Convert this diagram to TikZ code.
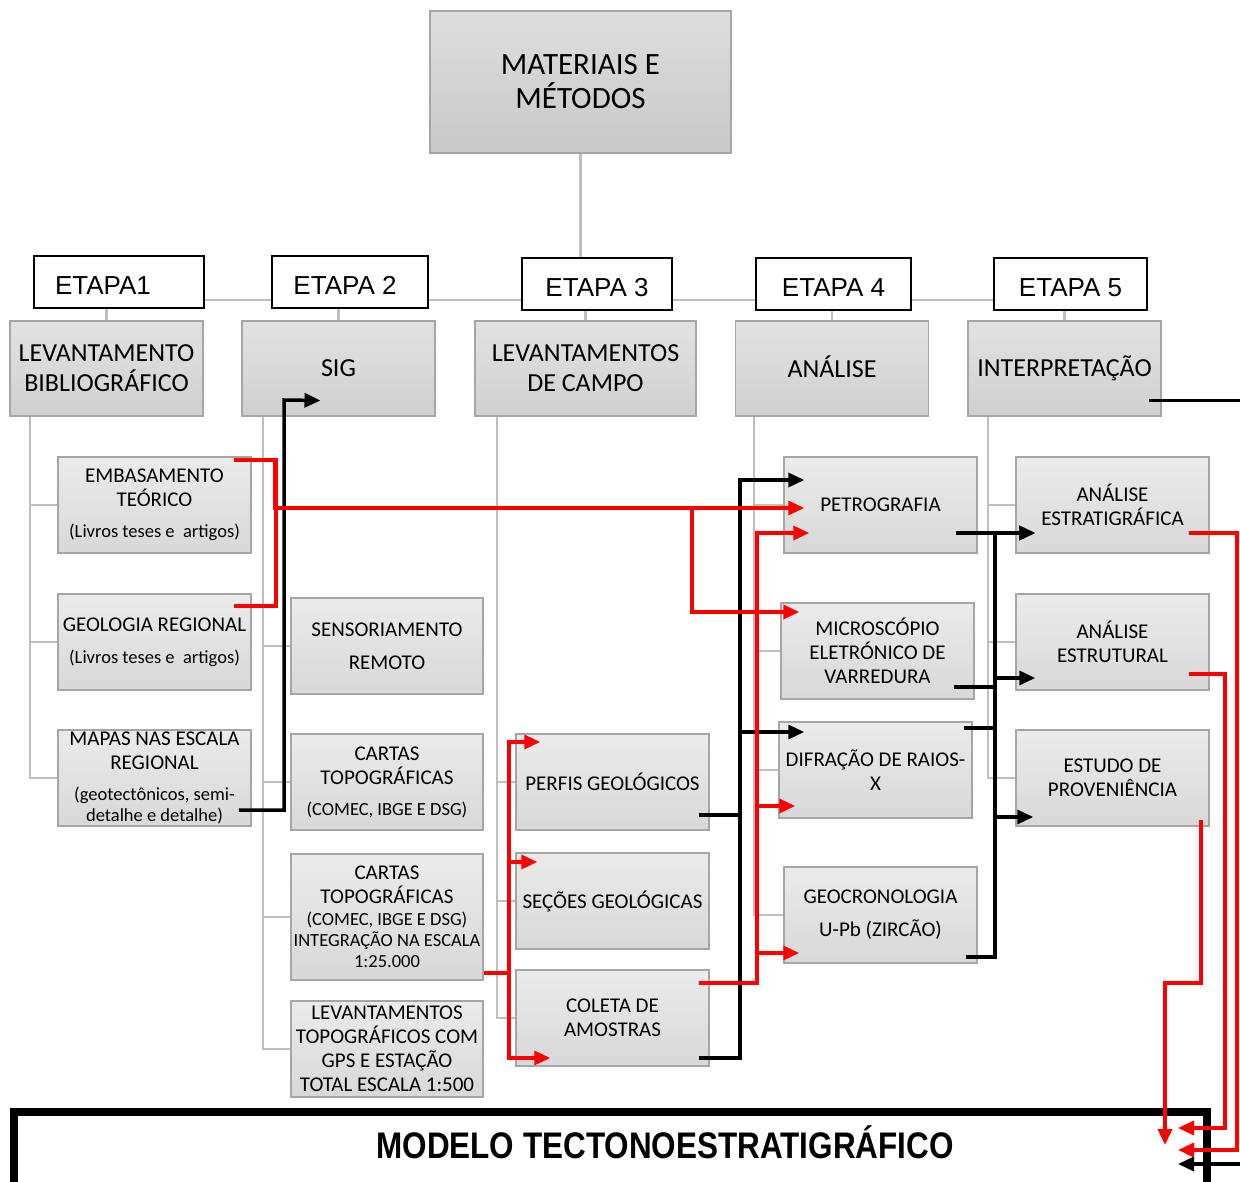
\documentclass[tikz,border=0pt]{standalone}
\usepackage{fontspec}
\setmainfont{Carlito}
\newfontfamily\arialfont{Liberation Sans}
\usetikzlibrary{arrows.meta}
\definecolor{cxtopo}{RGB}{235,235,235}
\definecolor{cxbase}{RGB}{216,216,216}
\definecolor{cttopo}{RGB}{226,226,226}
\definecolor{ctbase}{RGB}{208,208,208}
\definecolor{tttopo}{RGB}{222,222,222}
\definecolor{ttbase}{RGB}{200,200,200}
\definecolor{cxborda}{RGB}{166,166,166}
\definecolor{cinzaramo}{RGB}{191,191,191}
\definecolor{verm}{RGB}{255,0,0}

\begin{document}
\begin{tikzpicture}[x=1pt, y=-1pt,
	caixa/.style={draw=cxborda, line width=1.5pt, top color=cxtopo, bottom color=cxbase,
		minimum width=193pt, minimum height=96pt, align=center, inner sep=2pt,
		font=\fontsize{21}{24}\selectfont},
	categoria/.style={caixa, top color=cttopo, bottom color=ctbase, minimum height=95pt,
		font=\fontsize{26}{30}\selectfont},
	etapa/.style={draw=black, line width=1.5pt, fill=white, minimum height=52pt, text height=25pt,
		font=\arialfont\fontsize{26}{30}\selectfont},
	ramo/.style={draw=cinzaramo, line width=2.5pt},
	modelobox/.style={draw=black, line width=8pt, outer sep=0pt},
	linha/.style={line width=3.5pt},
	seta/.style={linha, -{Triangle[length=16pt,width=14pt]}},
	vlinha/.style={linha, draw=verm},
	vseta/.style={seta, draw=verm}]

	\useasboundingbox (0,0) rectangle (1240,1182);

	\newcommand{\mkcaixa}[5][]{\node[caixa,#1] (#2) at (#3,#4) {#5};}
	\newcommand{\pq}[1]{{\fontsize{18.5}{21}\selectfont #1}}

	%titulo e etapas
	\node[caixa, minimum width=301pt, minimum height=142pt, top color=tttopo, bottom color=ttbase,
		font=\fontsize{31}{34}\selectfont] (titulo) at (580.5,82) {MATERIAIS E\\MÉTODOS};

	\node[etapa, minimum width=170pt] (etapa1) at (119,282) {ETAPA1\kern32pt};
	\node[etapa, minimum width=156pt] (etapa2) at (350,282) {ETAPA 2\kern10pt};
	\node[etapa, minimum width=150pt] (etapa3) at (597,284) {ETAPA 3};
	\node[etapa, minimum width=155pt] (etapa4) at (833.5,284) {ETAPA 4};
	\node[etapa, minimum width=153pt] (etapa5) at (1070.5,284) {ETAPA 5};

	%categorias
	\mkcaixa[categoria]{levbib}{106.5}{368.5}{LEVANTAMENTO\\BIBLIOGRÁFICO}
	\mkcaixa[categoria]{sig}{338.5}{368.5}{SIG}
	\mkcaixa[categoria, minimum width=221pt]{levcampo}{585.5}{368.5}{LEVANTAMENTOS\\DE CAMPO}
	\mkcaixa[categoria, text height=18pt]{analise}{832}{368.5}{ANÁLISE}
	\mkcaixa[categoria]{interp}{1064.5}{368.5}{INTERPRETAÇÃO}

	%etapa 1
	\mkcaixa{embas}{154.5}{505}{EMBASAMENTO\\TEÓRICO\\[7pt]\pq{(Livros teses e\ \ artigos)}}
	\mkcaixa{georeg}{154.5}{642}{GEOLOGIA REGIONAL\\[8pt]\pq{(Livros teses e\ \ artigos)}}
	\mkcaixa{mapas}{154.5}{778}{MAPAS NAS ESCALA\\REGIONAL\\[7pt]\pq{(geotectônicos, semi-}\\[-3pt]\pq{detalhe e detalhe)}}

	%etapa 2
	\mkcaixa[minimum width=192pt]{sens}{387}{646}{SENSORIAMENTO\\[9pt]REMOTO}
	\mkcaixa[minimum width=192pt]{cartas}{387}{782}{CARTAS\\TOPOGRÁFICAS\\[7pt]\pq{(COMEC, IBGE E DSG)}}
	\mkcaixa[minimum width=192pt, minimum height=126pt]{cartasint}{387}{917}{CARTAS\\TOPOGRÁFICAS\\[-2pt]\pq{(COMEC, IBGE E DSG)}\\[-3pt]\pq{INTEGRAÇÃO NA ESCALA}\\[-3pt]\pq{1:25.000}}
	\mkcaixa[minimum width=192pt]{levtopo}{387}{1049}{LEVANTAMENTOS\\TOPOGRÁFICOS COM\\GPS E ESTAÇÃO\\TOTAL ESCALA 1:500}

	%etapa 3
	\mkcaixa{perfis}{612.5}{782}{PERFIS GEOLÓGICOS}
	\mkcaixa{secoes}{612.5}{901}{SEÇÕES GEOLÓGICAS}
	\mkcaixa{coleta}{612.5}{1018}{COLETA DE\\AMOSTRAS}

	%etapa 4
	\mkcaixa{petro}{880.5}{505}{PETROGRAFIA}
	\mkcaixa{micro}{877.5}{651}{MICROSCÓPIO\\ELETRÓNICO DE\\VARREDURA}
	\mkcaixa{difra}{875.5}{770}{DIFRAÇÃO DE RAIOS-\\X}
	\mkcaixa{geocron}{880.5}{915}{GEOCRONOLOGIA\\[9pt]U-Pb (ZIRCÃO)}

	%etapa 5
	\mkcaixa{estrat}{1112.5}{505}{ANÁLISE\\ESTRATIGRÁFICA}
	\mkcaixa{estrut}{1112.5}{642}{ANÁLISE\\ESTRUTURAL}
	\mkcaixa{proven}{1112.5}{778}{ESTUDO DE\\PROVENIÊNCIA}

	%modelo final
	\node[modelobox, minimum width=1193pt, minimum height=150pt, anchor=north west] (modelo) at (14,1112) {};
	\node[font=\arialfont\bfseries\fontsize{37}{40}\selectfont] (modelotxt) at (665,1142)
		{\scalebox{0.85}[1]{MODELO TECTONOESTRATIGRÁFICO}};

	%ramos cinza
	\coordinate (barra) at (0,300);
	\draw[ramo] (titulo.south) -- (titulo.south |- etapa3.north);
	\foreach \a/\b in {etapa1/etapa2, etapa2/etapa3, etapa3/etapa4, etapa4/etapa5}
		\draw[ramo] (\a.east |- barra) -- (\b.west |- barra);
	\foreach \e/\c in {etapa1/levbib, etapa2/sig, etapa3/levcampo, etapa4/analise, etapa5/interp}
		\draw[ramo] (\c.north) -- (\c.north |- \e.south);
	\foreach \c/\x/\filhos in {levbib/30/{embas,georeg,mapas}, sig/263/{sens,cartas,cartasint,levtopo},
			levcampo/497/{perfis,secoes,coleta}, analise/754/{petro,micro,difra,geocron},
			interp/988/{estrat,estrut,proven}}
		\foreach \f in \filhos
			\draw[ramo] (\x,0 |- \c.south) |- (\f.west);

	%setas pretas
	\draw[seta] ([shift={(-13,32)}]mapas.east) -| (284,400) -- ([shift={(-18,32)}]sig.center);
	\draw[seta] ([shift={(-11,40)}]coleta.east) -| (740,480) -- ([shift={(21,-25)}]petro.west);
	\draw[seta] ([shift={(-11,33)}]perfis.east) -| (740,732) -- ([shift={(26,-38)}]difra.west);
	\draw[seta] ([shift={(-12,42)}]geocron.east) -| (995,533) -- ([shift={(20,28)}]estrat.west);
	\draw[seta] ([shift={(-22,28)}]petro.east) -- ([shift={(20,28)}]estrat.west);
	\draw[seta] ([shift={(-21,36)}]micro.east) -| (995,678) -- ([shift={(20,36)}]estrut.west);
	\draw[seta] ([shift={(-9,-42)}]difra.east) -| (995,817) -- ([shift={(18,39)}]proven.west);
	\draw[seta] ([shift={(-13,32)}]interp.east) -- ([shift={(90,32)}]interp.east) |- ([shift={(-29,52)}]modelo.north east);

	%setas vermelhas
	\draw[vlinha] ([shift={(-18,-45)}]embas.east) -| ([shift={(24,-36)}]georeg.east) -- ([shift={(-18,-36)}]georeg.east);
	\draw[vseta] ([shift={(-18,-45)}]embas.east) -| (275,508) -- ([shift={(21,3)}]petro.west);
	\draw[vseta] ([shift={(-18,-45)}]embas.east) -| (275,508) -| (692,612) -- ([shift={(19,-39)}]micro.west);
	\draw[vseta] ([shift={(0,56)}]cartasint.east) -| (509,742) -- ([shift={(25,-40)}]perfis.west);
	\draw[vseta] ([shift={(0,56)}]cartasint.east) -| (509,862) -- ([shift={(22,-39)}]secoes.west);
	\draw[vseta] ([shift={(0,56)}]cartasint.east) -| (509,1058) -- ([shift={(35,40)}]coleta.west);
	\draw[vseta] ([shift={(-11,-35)}]coleta.east) -| (757,533) -- ([shift={(26,28)}]petro.west);
	\draw[vseta] ([shift={(-11,-35)}]coleta.east) -| (757,806) -- ([shift={(17,36)}]difra.west);
	\draw[vseta] ([shift={(-11,-35)}]coleta.east) -| (757,953) -- ([shift={(16,38)}]geocron.west);
	\draw[vseta] ([shift={(-21,28)}]estrat.east) -| (1237,1150) -- ([shift={(-29,38)}]modelo.north east);
	\draw[vseta] ([shift={(-21,32)}]estrut.east) -| (1225,1128) -- ([shift={(-29,16)}]modelo.north east);
	\draw[vseta] ([shift={(-9,42)}]proven.east) |- (1165,983) -- ([shift={(-42,33)}]modelo.north east);

\end{tikzpicture}
\end{document}
